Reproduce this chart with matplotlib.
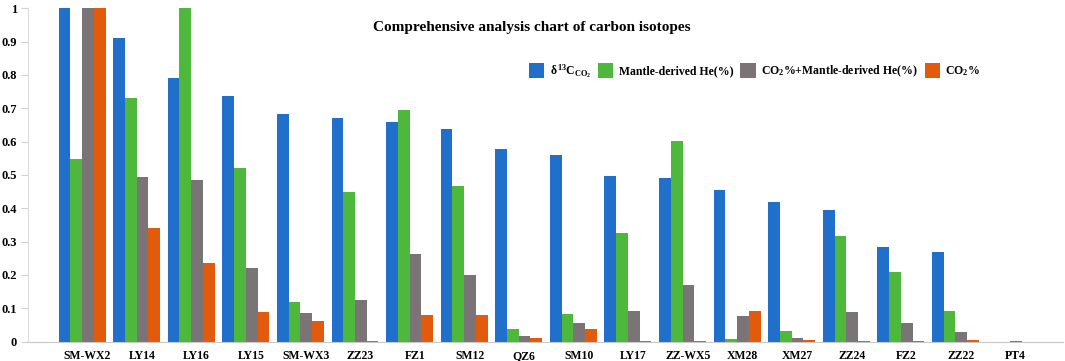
import numpy as np
import matplotlib
matplotlib.use("Agg")
import matplotlib.pyplot as plt

plt.rcParams['font.family'] = ['Liberation Serif', 'DejaVu Serif']
plt.rcParams['font.weight'] = 'bold'
plt.rcParams['mathtext.fontset'] = 'custom'
plt.rcParams['mathtext.rm'] = 'Liberation Serif:bold'
plt.rcParams['mathtext.it'] = 'Liberation Serif:bold'
plt.rcParams['mathtext.bf'] = 'Liberation Serif:bold'

samples = ["SM-WX2", "LY14", "LY16", "LY15", "SM-WX3", "ZZ23", "FZ1", "SM12", "QZ6",
           "SM10", "LY17", "ZZ-WX5", "XM28", "XM27", "ZZ24", "FZ2", "ZZ22", "PT4"]
delta13c = [1.0, 0.912, 0.79, 0.736, 0.683, 0.672, 0.660, 0.638, 0.579,
            0.561, 0.496, 0.490, 0.455, 0.420, 0.396, 0.285, 0.268, 0.0]
mantle_he = [0.548, 0.731, 1.0, 0.52, 0.118, 0.448, 0.694, 0.468, 0.038,
             0.083, 0.325, 0.601, 0.008, 0.033, 0.318, 0.208, 0.091, 0.0]
co2_he = [1.0, 0.495, 0.485, 0.222, 0.086, 0.125, 0.264, 0.201, 0.018,
          0.055, 0.091, 0.170, 0.078, 0.011, 0.089, 0.057, 0.030, 0.002]
co2 = [1.0, 0.341, 0.235, 0.090, 0.063, 0.001, 0.081, 0.081, 0.011,
       0.038, 0.002, 0.002, 0.092, 0.004, 0.001, 0.001, 0.006, 0.0]

labels = [r'$\delta^{13}\mathrm{C}_{\mathrm{CO_2}}$', 'Mantle-derived He(%)',
          r'CO$_2$%+Mantle-derived He(%)', r'CO$_2$%']
colors = ['#1f6fcb', '#4db83b', '#7a7477', '#e25b0c']

fig = plt.figure(figsize=(10.65, 3.61), dpi=100)
ax = fig.add_axes([28 / 1065, 1 - 341.5 / 361, 1035 / 1065, 333.2 / 361])

x = np.arange(len(samples))
w = 0.215
series = [delta13c, mantle_he, co2_he, co2]
for i, vals in enumerate(series):
    ax.bar(x + (i - 1.5) * w, vals, w, color=colors[i], label=labels[i])

ax.set_xlim(-0.99, 17.97)
ax.set_ylim(0, 1)
ax.set_yticks(np.arange(0, 1.01, 0.1))
ax.set_yticklabels(['0', '0.1', '0.2', '0.3', '0.4', '0.5', '0.6', '0.7', '0.8', '0.9', '1'])
ax.set_xticks(x + 0.1)
ax.set_xticklabels(samples)
ax.tick_params(axis='x', length=0, pad=6, labelsize=8.5)
ax.tick_params(axis='y', length=5, color='#d0d0d0', pad=3, labelsize=9)
for s in ['top', 'right']:
    ax.spines[s].set_visible(False)
ax.spines['left'].set_color('#dcdcdc')
ax.spines['bottom'].set_color('#c8c8c8')

fig.text(532 / 1065, 1 - 27 / 361, 'Comprehensive analysis chart of carbon isotopes',
         ha='center', va='center', fontsize=11, fontweight='bold')

fig.legend(loc='center left', bbox_to_anchor=(529 / 1065, 1 - 71 / 361), ncol=4,
           frameon=False, fontsize=8.5, handlelength=1.3, handleheight=1.55,
           handletextpad=0.45, columnspacing=0.6, borderpad=0, borderaxespad=0)

fig.savefig('out.png', dpi=100)
